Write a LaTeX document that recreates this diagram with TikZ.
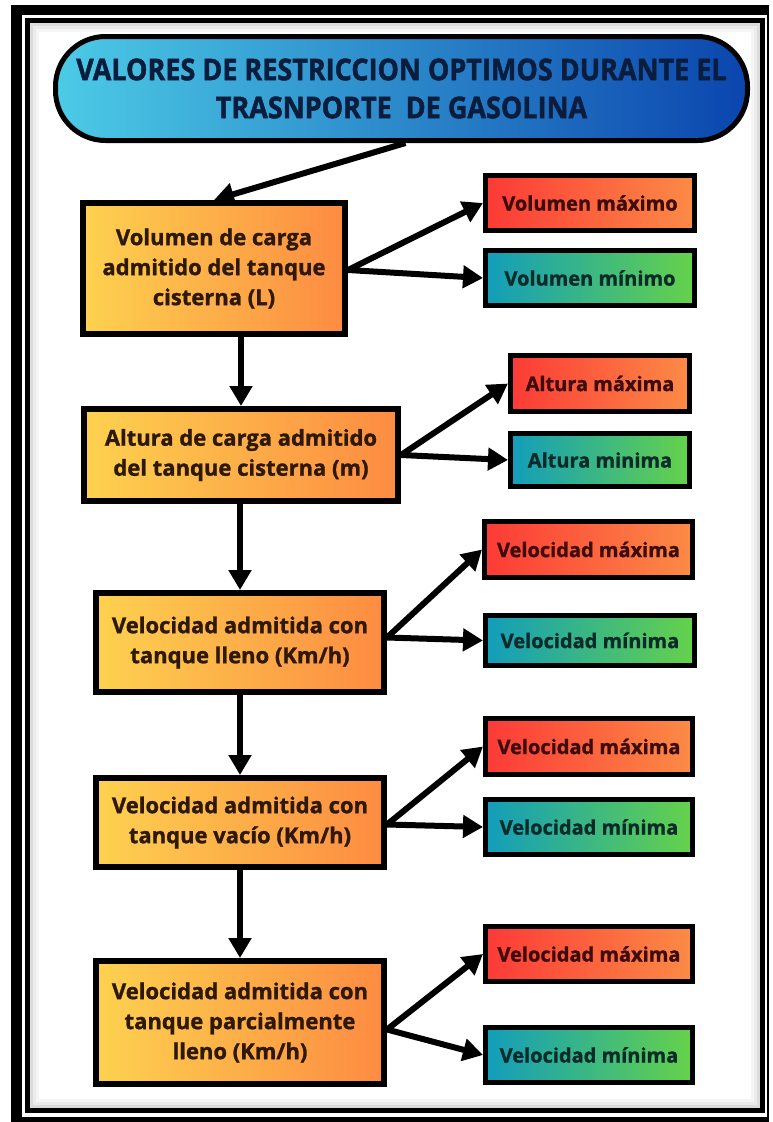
\documentclass[tikz,border=0pt]{standalone}
\usepackage{fontspec}
\setmainfont{Open Sans}[BoldFeatures={FakeBold=1.2}]
\newfontfamily\titlefont{Open Sans}[FakeStretch=0.9,BoldFeatures={FakeBold=1.5}]
\usetikzlibrary{arrows.meta,calc}
\definecolor{ylwL}{HTML}{FDD24F}
\definecolor{orgR}{HTML}{FD8B42}
\definecolor{redL}{HTML}{FC3A36}
\definecolor{redR}{HTML}{FC8B46}
\definecolor{tealL}{HTML}{129DBB}
\definecolor{grnR}{HTML}{66D24A}
\definecolor{cyanL}{HTML}{4CCBE6}
\definecolor{blueM}{HTML}{1E8DD2}
\definecolor{blueR}{HTML}{0B45AE}
\definecolor{txtBrown}{HTML}{2E1807}
\definecolor{txtRed}{HTML}{3D0C0C}
\definecolor{txtTeal}{HTML}{0A2B2A}
\definecolor{txtNavy}{HTML}{0B1D3D}
\tikzset{
  lbox/.style={draw=black, line width=6pt, left color=ylwL, right color=orgR,
    inner sep=0pt, align=center, text=txtBrown,
    font=\bfseries\fontsize{22}{30}\selectfont},
  rmax/.style={draw=black, line width=5pt, left color=redL, right color=redR,
    inner sep=0pt, align=center, text=txtRed,
    font=\bfseries\fontsize{20}{24}\selectfont},
  rmin/.style={draw=black, line width=5pt, left color=tealL, right color=grnR,
    inner sep=0pt, align=center, text=txtTeal,
    font=\bfseries\fontsize{20}{24}\selectfont},
  arr/.style={draw=black, line width=6pt, -{Triangle[length=20pt,width=22pt]}},
}
\begin{document}
\begin{tikzpicture}[x=1pt,y=-1pt]
\useasboundingbox (0,0) rectangle (772,1122);
\fill[white] (0,0) rectangle (772,1122);
% frame
\fill[black] (11,5) rectangle (769,1122);
\fill[white] (22,15) rectangle (767,1117);
\fill[black] (25,18) rectangle (765,1113);
\fill[white] (30,23) rectangle (760,1108);
\draw[black!14, line width=3pt] (31.5,24.5) rectangle (758.5,1106.5);
\draw[black!8, line width=3pt] (34.5,27.5) rectangle (755.5,1103.5);
\draw[black!4, line width=3pt] (37.5,30.5) rectangle (752.5,1100.5);
% title
\node[draw=black, line width=5pt, rounded corners=50pt,
  left color=cyanL, middle color=blueM, right color=blueR,
  minimum width=692pt, minimum height=104pt, inner sep=0pt,
  align=center, text=txtNavy, font=\titlefont\bfseries\fontsize{30}{38}\selectfont]
  (title) at (401.5,88.5) {VALORES DE RESTRICCION OPTIMOS DURANTE EL\\TRASNPORTE\ \ DE GASOLINA};
% left boxes
\node[lbox, minimum width=262pt, minimum height=131pt] (l1) at (214,268.5)
  {Volumen de carga\\admitido del tanque\\cisterna (L)};
\node[lbox, minimum width=314pt, minimum height=92pt] (l2) at (241,455)
  {Altura de carga admitido\\del tanque cisterna (m)};
\node[lbox, minimum width=288pt, minimum height=99pt] (l3) at (240,642.5)
  {Velocidad admitida con\\tanque lleno (Km/h)};
\node[lbox, minimum width=288pt, minimum height=89pt] (l4) at (240,822.5)
  {Velocidad admitida con\\tanque vacío (Km/h)};
\node[lbox, minimum width=288pt, minimum height=123pt] (l5) at (240,1022.5)
  {Velocidad admitida con\\tanque parcialmente\\lleno (Km/h)};
% right boxes
\node[rmax, minimum width=209pt, minimum height=55pt] (r1a) at (590,203) {Volumen máximo};
\node[rmin, minimum width=209pt, minimum height=55pt] (r1b) at (590,278) {Volumen mínimo};
\node[rmax, minimum width=179pt, minimum height=56pt] (r2a) at (600,383.5) {Altura máxima};
\node[rmin, minimum width=179pt, minimum height=53pt] (r2b) at (600,460) {Altura minima};
\node[rmax, minimum width=208pt, minimum height=56pt] (r3a) at (588.5,549.5) {Velocidad máxima};
\node[rmin, minimum width=209pt, minimum height=50pt] (r3b) at (590,640.5) {Velocidad mínima};
\node[rmax, minimum width=207pt, minimum height=56pt] (r4a) at (589,746.5) {Velocidad máxima};
\node[rmin, minimum width=207pt, minimum height=55pt] (r4b) at (589,827) {Velocidad mínima};
\node[rmax, minimum width=207pt, minimum height=55pt] (r5a) at (589,954) {Velocidad máxima};
\node[rmin, minimum width=207pt, minimum height=55pt] (r5b) at (589,1055) {Velocidad mínima};
% origins
\coordinate (o1) at ($(l1.east)+(0,1.5)$);
\coordinate (o2) at (l2.east);
\coordinate (o3) at ($(l3.east)+(0,-5)$);
\coordinate (o4) at ($(l4.east)+(0,2)$);
\coordinate (o5) at ($(l5.east)+(0,7)$);
% arrows
\draw[arr] ($(title.south)+(4,0)$) -- (l1.north);
\draw[arr] (l1.south -| l2.north) -- (l2.north);
\draw[arr] (l2.south -| l3.north) -- (l3.north);
\draw[arr] (l3.south -| l4.north) -- (l4.north);
\draw[arr] (l4.south -| l5.north) -- (l5.north);
\draw[arr] (o1) -- (r1a.west);
\draw[arr] (o1) -- (r1b.west);
\draw[arr] (o2) -- (r2a.west);
\draw[arr] (o2) -- (r2b.west);
\draw[arr] (o3) -- (r3a.west);
\draw[arr] (o3) -- (r3b.west);
\draw[arr] (o4) -- (r4a.west);
\draw[arr] (o4) -- (r4b.west);
\draw[arr] (o5) -- (r5a.west);
\draw[arr] (o5) -- (r5b.west);
\end{tikzpicture}
\end{document}
